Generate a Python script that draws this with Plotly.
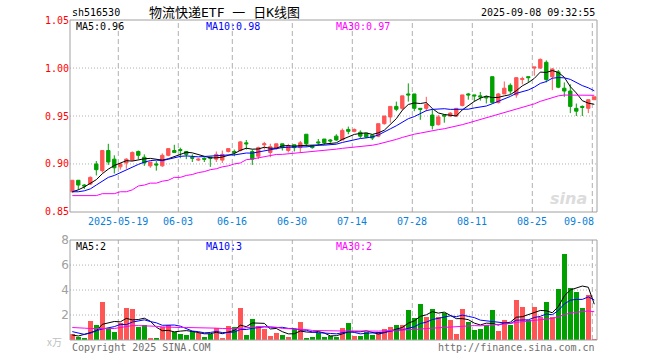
import plotly.graph_objects as go

# ---------------- data ----------------
dates = ["05-07","05-08","05-09","05-12","05-13","05-14","05-15","05-16","05-19","05-20",
         "05-21","05-22","05-23","05-26","05-27","05-28","05-29","05-30",
         "06-03","06-04","06-05","06-06","06-09","06-10","06-11","06-12","06-13","06-16",
         "06-17","06-18","06-19","06-20","06-23","06-24","06-25","06-26","06-27","06-30",
         "07-01","07-02","07-03","07-04","07-07","07-08","07-09","07-10","07-11","07-14",
         "07-15","07-16","07-17","07-18","07-21","07-22","07-23","07-24","07-25","07-28",
         "07-29","07-30","07-31",
         "08-01","08-04","08-05","08-06","08-07","08-08","08-11","08-12","08-13","08-14",
         "08-15","08-18","08-19","08-20","08-21","08-22","08-25","08-26","08-27","08-28","08-29",
         "09-01","09-02","09-03","09-04","09-05","09-08"]

opens = [0.871,0.883,0.878,0.879,0.900,0.893,0.914,0.905,0.897,0.901,
         0.904,0.913,0.907,0.898,0.900,0.898,0.909,0.914,0.915,0.913,
         0.907,0.904,0.906,0.907,0.905,0.904,0.913,0.913,0.914,0.922,
         0.913,0.908,0.920,0.912,0.916,0.921,0.914,0.920,0.917,0.931,
         0.919,0.923,0.926,0.925,0.929,0.925,0.936,0.934,0.933,0.932,
         0.930,0.929,0.942,0.949,0.960,0.958,0.973,0.973,0.958,0.958,
         0.951,0.941,0.951,0.950,0.950,0.961,0.973,0.972,0.971,0.970,
         0.991,0.964,0.973,0.982,0.972,0.988,0.991,1.000,1.000,1.006,
         0.991,0.996,0.979,0.976,0.958,0.960,0.958,0.967]
highs = [0.883,0.883,0.879,0.887,0.903,0.914,0.921,0.909,0.901,0.906,
         0.913,0.914,0.910,0.902,0.903,0.911,0.916,0.920,0.917,0.913,
         0.910,0.906,0.907,0.907,0.913,0.914,0.916,0.915,0.924,0.925,
         0.915,0.918,0.923,0.921,0.921,0.921,0.921,0.920,0.924,0.931,
         0.919,0.926,0.926,0.926,0.931,0.937,0.939,0.937,0.935,0.932,
         0.930,0.942,0.950,0.960,0.965,0.971,0.984,0.973,0.958,0.970,
         0.957,0.951,0.951,0.954,0.958,0.972,0.974,0.972,0.975,0.971,
         0.991,0.974,0.986,0.984,0.990,0.991,0.991,1.001,1.010,1.008,
         1.000,0.998,0.985,0.983,0.963,0.961,0.967,0.970]
lows = [0.870,0.873,0.874,0.878,0.888,0.891,0.899,0.890,0.894,0.895,
        0.903,0.905,0.898,0.896,0.893,0.897,0.908,0.912,0.906,0.905,
        0.902,0.903,0.902,0.897,0.902,0.901,0.912,0.908,0.913,0.915,
        0.899,0.905,0.915,0.907,0.915,0.914,0.912,0.913,0.912,0.918,
        0.916,0.919,0.920,0.922,0.924,0.925,0.931,0.933,0.927,0.927,
        0.925,0.928,0.941,0.943,0.955,0.956,0.965,0.955,0.946,0.955,
        0.936,0.940,0.943,0.949,0.949,0.960,0.967,0.965,0.966,0.963,
        0.963,0.963,0.973,0.973,0.969,0.983,0.985,0.992,0.999,0.985,
        0.977,0.979,0.970,0.953,0.950,0.950,0.953,0.967]
closes = [0.883,0.878,0.877,0.886,0.894,0.914,0.902,0.896,0.900,0.905,
          0.912,0.909,0.901,0.902,0.899,0.909,0.916,0.912,0.914,0.910,
          0.906,0.905,0.905,0.906,0.910,0.910,0.916,0.912,0.923,0.921,
          0.905,0.917,0.921,0.918,0.921,0.917,0.919,0.917,0.922,0.921,
          0.917,0.922,0.922,0.924,0.925,0.935,0.934,0.936,0.929,0.928,
          0.927,0.942,0.950,0.960,0.957,0.971,0.972,0.958,0.957,0.962,
          0.940,0.949,0.950,0.953,0.958,0.972,0.972,0.971,0.970,0.969,
          0.964,0.973,0.979,0.976,0.990,0.989,0.990,1.001,1.009,0.988,
          0.999,0.980,0.976,0.960,0.955,0.959,0.967,0.970]
volumes = [0.45,0.27,0.19,1.55,1.20,3.07,0.93,0.67,1.39,2.59,
           2.48,1.07,1.20,0.19,0.19,1.07,1.20,0.61,0.48,0.40,
           0.75,0.59,0.27,0.48,0.99,0.19,1.15,1.01,2.59,0.40,
           1.68,1.15,0.85,0.35,0.59,0.40,0.27,0.88,1.47,0.19,
           0.27,0.59,0.27,0.32,0.27,0.99,1.39,0.32,0.32,0.67,
           0.40,0.67,0.88,1.07,1.20,1.20,2.40,1.79,2.88,1.81,
           2.48,1.81,2.19,1.60,0.48,2.48,1.41,0.80,0.85,1.20,
           2.40,0.72,1.60,1.20,3.20,2.61,1.60,2.61,1.81,3.07,
           1.81,4.08,6.88,4.19,3.87,2.59,3.60,0.08]

# moving-average values for the days before a full window exists
price_ma5_head = [0.871,0.873,0.876,0.880]
price_ma10_head = [0.871,0.871,0.872,0.874,0.878,0.882,0.886,0.888,0.891]
price_ma30_head = [0.867,0.867,0.867,0.867,0.867,0.869,0.869,0.869,0.871,0.871,
                   0.873,0.877,0.878,0.880,0.880,0.882,0.883,0.886,0.886,0.888,
                   0.889,0.891,0.892,0.894,0.895,0.897,0.898,0.900,0.901]
vol_ma5_head = [0.40,0.32,0.45,0.60]
vol_ma10_head = [0.67,0.55,0.45,0.55,0.75,0.88,0.98,1.07,1.25]
vol_ma30_head = [1.00,1.00,0.95,0.92,0.92,0.92,0.92,0.92,1.00,1.10,
                 1.15,1.15,1.15,1.15,1.10,1.05,1.02,1.00,1.00,1.00,
                 1.00,1.00,1.00,1.00,0.95,0.92,0.90,0.90,0.90]

tick_dates = ["05-19","06-03","06-16","06-30","07-14","07-28","08-11","08-25","09-08"]
tick_texts = ["2025-05-19","06-03","06-16","06-30","07-14","07-28","08-11","08-25","09-08"]
price_ticks = [0.85, 0.90, 0.95, 1.00, 1.05]
vol_ticks = [2, 4, 6, 8]

code = "sh516530"
title = "物流快递ETF 一 日K线图"
stamp = "2025-09-08 09:32:55"
price_legend = ["MA5:0.96", "MA10:0.98", "MA30:0.97"]
vol_legend = ["MA5:2", "MA10:3", "MA30:2"]

# ---------------- helpers ----------------
def rolling(vals, n, head):
    out = list(head)
    for i in range(len(head), len(vals)):
        out.append(sum(vals[i - n + 1:i + 1]) / n)
    return out

RED = "#ff5555"
GREEN = "#00a000"
GRAY = "#a0a0a0"
MONO = "DejaVu Sans Mono, Noto Sans CJK SC"
MA_COLORS = ["#000000", "#0000ff", "#ff00ff"]

x = list(range(len(dates)))
XR = [-0.383, 87.45]

W, H = 660, 360
L, R, T, B = 70, 63, 20, 20
PW, PH = W - L - R, H - T - B

def px(xp):
    return (xp - L) / PW

def py(yp):
    return (H - B - yp) / PH

fig = go.Figure()

fig.add_trace(go.Candlestick(
    x=x, open=opens, high=highs, low=lows, close=closes,
    increasing=dict(line=dict(color=RED, width=1), fillcolor=RED),
    decreasing=dict(line=dict(color=GREEN, width=1), fillcolor=GREEN),
    whiskerwidth=0, xaxis="x", yaxis="y", hoverinfo="skip"))

pma = [rolling(closes, 5, price_ma5_head), rolling(closes, 10, price_ma10_head),
       rolling(closes, 30, price_ma30_head)]
for m, c in zip(pma, MA_COLORS):
    fig.add_trace(go.Scatter(x=x, y=m, mode="lines", line=dict(color=c, width=1),
                             xaxis="x", yaxis="y", hoverinfo="skip"))

vcolors = [RED if c >= o else GREEN for o, c in zip(opens, closes)]
fig.add_trace(go.Bar(x=x, y=volumes, marker=dict(color=vcolors, line=dict(width=0)),
                     width=0.8, xaxis="x2", yaxis="y2", hoverinfo="skip"))

vma = [rolling(volumes, 5, vol_ma5_head), rolling(volumes, 10, vol_ma10_head),
       rolling(volumes, 30, vol_ma30_head)]
for m, c in zip(vma, MA_COLORS):
    fig.add_trace(go.Scatter(x=x, y=m, mode="lines", line=dict(color=c, width=1),
                             xaxis="x2", yaxis="y2", hoverinfo="skip"))

shapes = []
tick_idx = [dates.index(d) for d in tick_dates]
for k in tick_idx:
    gx = k - 1 / 3
    for xr, yr in (("x", "y domain"), ("x2", "y2 domain")):
        shapes.append(dict(type="line", xref=xr, yref=yr, x0=gx, x1=gx, y0=0, y1=1,
                           line=dict(color="#b0b0b0", width=1, dash="5px,3px"), layer="below"))
for v in price_ticks[1:-1]:
    shapes.append(dict(type="line", xref="x domain", yref="y", x0=0, x1=1, y0=v, y1=v,
                       line=dict(color="#b0b0b0", width=1, dash="1px,2px"), layer="below"))
for v in vol_ticks[:-1]:
    shapes.append(dict(type="line", xref="x2 domain", yref="y2", x0=0, x1=1, y0=v, y1=v,
                       line=dict(color="#b0b0b0", width=1, dash="1px,2px"), layer="below"))
for xr, yr in (("x domain", "y domain"), ("x2 domain", "y2 domain")):
    shapes.append(dict(type="rect", xref=xr, yref=yr, x0=0, x1=1, y0=0, y1=1,
                       line=dict(color=GRAY, width=1), layer="above"))

ann = []
def text(t, xp, yp, anchor="left", color="#000000", size=10, family=MONO, **kw):
    ann.append(dict(text=t, x=px(xp), y=py(yp), xref="paper", yref="paper",
                    xanchor=anchor, yanchor="middle", showarrow=False,
                    font=dict(color=color, size=size, family=family), **kw))

text(code, 70, 13)
text(title, 224, 12, anchor="center", size=13)
text(stamp, 597, 13, anchor="right")
for t, xp, c in zip(price_legend, (74, 204, 334), MA_COLORS):
    text(t, xp, 26, color=c)
for t, xp, c in zip(vol_legend, (74, 204, 334), MA_COLORS):
    text(t, xp, 246, color=c)
for k, t in zip(tick_idx, tick_texts):
    xp = L + (k - 1 / 3 - XR[0]) / (XR[1] - XR[0]) * PW
    if k == tick_idx[-1]:
        text(t, 596, 221, anchor="right", color="#0a80d8")
    else:
        text(t, xp, 221, anchor="center", color="#0a80d8")
text("Copyright 2025 SINA.COM", 70, 347, color="#707070")
text("http://finance.sina.com.cn", 597, 347, anchor="right", color="#707070")
text("x万", 64, 341, anchor="right", color="#c0c0c0", size=10, family="Noto Sans CJK SC")
text("<b><i>sina</i></b>", 568, 198, anchor="center", color="#dcdcdc", size=16,
     family="DejaVu Sans")

fig.update_layout(
    width=W, height=H, margin=dict(l=L, r=R, t=T, b=B),
    paper_bgcolor="white", plot_bgcolor="white", showlegend=False,
    boxgap=0.2,
    xaxis=dict(domain=[0, 1], range=XR, anchor="y", showticklabels=False, showgrid=False,
               zeroline=False, rangeslider=dict(visible=False), fixedrange=True),
    yaxis=dict(domain=[0.4, 1], range=[0.8499, 1.0501], tickvals=price_ticks,
               ticktext=[f"{v:.2f}" for v in price_ticks], showgrid=False, zeroline=False,
               tickfont=dict(color="#ff0000", size=10, family=MONO), ticks="",
               fixedrange=True),
    xaxis2=dict(domain=[0, 1], range=XR, anchor="y2", showticklabels=False, showgrid=False,
                zeroline=False, fixedrange=True),
    yaxis2=dict(domain=[0, 0.3125], range=[0, 8.01], tickvals=vol_ticks,
                ticktext=[str(v) for v in vol_ticks], showgrid=False, zeroline=False,
                tickfont=dict(color="#a0a0a0", size=12, family="DejaVu Sans"), ticks="",
                fixedrange=True),
    shapes=shapes, annotations=ann, bargap=0,
)

fig.write_html("out.html", config={"displayModeBar": False},
               post_script="document.body.style.margin='0';document.body.style.overflow='hidden';")
